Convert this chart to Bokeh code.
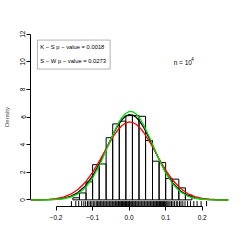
from bokeh.plotting import figure
from bokeh.models import Range1d, FixedTicker, BoxAnnotation, Label
from bokeh.embed import file_html
from bokeh.resources import INLINE

# histogram
bin_edges = [-0.154, -0.136, -0.118, -0.100, -0.082, -0.063, -0.045, -0.027, -0.009,
             0.009, 0.027, 0.045, 0.064, 0.082, 0.100, 0.118, 0.136, 0.154, 0.172]
bin_density = [0.15, 0.5, 1.3, 2.55, 2.6, 4.5, 5.5, 5.7, 6.1,
               6.1, 6.05, 4.3, 2.8, 2.7, 1.55, 1.5, 0.87, 0.34]

# curves
curve_x = [-0.27, -0.24, -0.22, -0.20, -0.18, -0.16, -0.14, -0.12, -0.10, -0.08, -0.06,
           -0.04, -0.03, -0.02, -0.01, 0.0, 0.01, 0.02, 0.03, 0.04, 0.06, 0.08, 0.10,
           0.12, 0.14, 0.16, 0.18, 0.20, 0.22, 0.24, 0.272]
red_y = [0.004, 0.016, 0.041, 0.095, 0.205, 0.41, 0.75, 1.27, 1.99, 2.88, 3.84,
         4.73, 5.09, 5.37, 5.56, 5.64, 5.60, 5.46, 5.21, 4.88, 4.03, 3.07, 2.16,
         1.40, 0.84, 0.46, 0.237, 0.112, 0.049, 0.020, 0.004]
black_y = [0.001, 0.005, 0.016, 0.044, 0.112, 0.256, 0.53, 1.01, 1.73, 2.70, 3.84,
           4.95, 5.42, 5.80, 6.05, 6.17, 6.14, 5.96, 5.65, 5.24, 4.19, 3.03, 2.00,
           1.20, 0.65, 0.32, 0.145, 0.059, 0.022, 0.007, 0.001]
green_y = [0.0007, 0.003, 0.010, 0.030, 0.081, 0.198, 0.44, 0.878, 1.58, 2.57, 3.78,
           4.99, 5.52, 5.95, 6.25, 6.40, 6.38, 6.20, 5.87, 5.42, 4.28, 3.04, 1.95,
           1.13, 0.587, 0.276, 0.117, 0.045, 0.015, 0.005, 0.0007]

# rug (observations)
rug_x = [-0.158, -0.146, -0.138, -0.130, -0.124, -0.119, -0.114, -0.110, -0.106, -0.102,
         -0.098, -0.094,
         -0.090, -0.087, -0.085, -0.082, -0.079, -0.077, -0.074, -0.071, -0.069, -0.066,
         -0.063, -0.061, -0.058, -0.055, -0.053, -0.050, -0.047, -0.045, -0.042, -0.039,
         -0.037, -0.034, -0.031, -0.029, -0.026, -0.023, -0.021, -0.018, -0.015, -0.013,
         -0.010, -0.007, -0.005, -0.002, 0.001, 0.003, 0.006, 0.009, 0.011, 0.014, 0.017,
         0.019, 0.022, 0.025, 0.027, 0.030, 0.033, 0.035, 0.038, 0.041, 0.043, 0.046,
         0.049, 0.051, 0.054, 0.057, 0.059, 0.062, 0.065, 0.067, 0.070, 0.073, 0.075,
         0.078, 0.081, 0.083, 0.086, 0.089, 0.091, 0.094, 0.097, 0.100, 0.103, 0.106,
         0.109, 0.112,
         0.116, 0.120, 0.124, 0.129, 0.133, 0.138, 0.142, 0.147, 0.153, 0.160, 0.168,
         0.177, 0.186, 0.197, 0.212]

x_ticks = [-0.2, -0.1, 0.0, 0.1, 0.2]
x_tick_labels = ["\u22120.2", "\u22120.1", "0.0", "0.1", "0.2"]
y_ticks = [0, 2, 4, 6, 8, 10, 12]
y_tick_labels = ["0", "2", "4", "6", "8", "10", "12"]

ks_text = "K \u2212 S  p \u2212 value = 0.0018"
sw_text = "S \u2212 W  p \u2212 value = 0.0273"

FONT = "Liberation Sans"

p = figure(width=242, height=242, output_backend="svg", toolbar_location=None,
           x_range=Range1d(-0.27, 0.272), y_range=Range1d(-0.48, 12.48),
           min_border_left=29, min_border_right=14, min_border_top=27, min_border_bottom=36)
p.outline_line_color = None
p.grid.visible = False
p.background_fill_color = "white"
p.border_fill_color = "white"

p.quad(left=bin_edges[:-1], right=bin_edges[1:], top=bin_density, bottom=0,
       fill_color=None, line_color="black", line_width=1)

y0 = -0.48
y1 = -0.09
p.segment(x0=rug_x, x1=rug_x, y0=[y0] * len(rug_x), y1=[y1] * len(rug_x),
          line_color="black", line_width=1)

p.line(curve_x, black_y, line_color="black", line_width=1.3)
p.line(curve_x, red_y, line_color="#ff0000", line_width=1.3)
p.line(curve_x, green_y, line_color="#00dd00", line_width=1.3)

# axes
xa = p.xaxis[0]
xa.ticker = FixedTicker(ticks=x_ticks)
xa.major_label_overrides = {t: l for t, l in zip(x_ticks, x_tick_labels)}
xa.bounds = (x_ticks[0], x_ticks[-1])
xa.minor_tick_line_color = None
xa.major_tick_out = 4
xa.major_tick_in = 0
xa.major_label_standoff = 4
xa.major_label_text_font = FONT
xa.major_label_text_font_size = "6.5px"
xa.major_label_text_color = "black"
xa.axis_line_color = "black"
xa.major_tick_line_color = "black"

ya = p.yaxis[0]
ya.ticker = FixedTicker(ticks=y_ticks)
ya.major_label_overrides = {t: l for t, l in zip(y_ticks, y_tick_labels)}
ya.bounds = (y_ticks[0], y_ticks[-1])
ya.minor_tick_line_color = None
ya.major_tick_out = 4
ya.major_tick_in = 0
ya.major_label_standoff = 1
ya.major_label_orientation = "vertical"
ya.major_label_text_font = FONT
ya.major_label_text_font_size = "6.5px"
ya.major_label_text_color = "black"
ya.axis_line_color = "black"
ya.major_tick_line_color = "black"
ya.axis_label = "Density"
ya.axis_label_text_font = FONT
ya.axis_label_text_font_size = "6px"
ya.axis_label_text_font_style = "normal"
ya.axis_label_standoff = 8

# legend box
box = BoxAnnotation(left=-0.251, right=-0.052, bottom=9.47, top=11.57,
                    fill_color=None, line_color="black", line_width=1)
p.add_layout(box)
p.add_layout(Label(x=-0.243, y=11.08, text=ks_text, text_font=FONT, text_font_size="5.8px",
                   text_baseline="middle", text_color="black"))
p.add_layout(Label(x=-0.243, y=10.04, text=sw_text, text_font=FONT, text_font_size="5.8px",
                   text_baseline="middle", text_color="black"))

# n = 10^4
p.add_layout(Label(x=0.122, y=9.98, text="n = 10", text_font=FONT, text_font_size="6.5px",
                   text_baseline="middle", text_color="black"))
p.add_layout(Label(x=0.170, y=10.2, text="4", text_font=FONT, text_font_size="4.5px",
                   text_baseline="middle", text_color="black"))

open("out.html", "w").write(file_html(p, INLINE))
